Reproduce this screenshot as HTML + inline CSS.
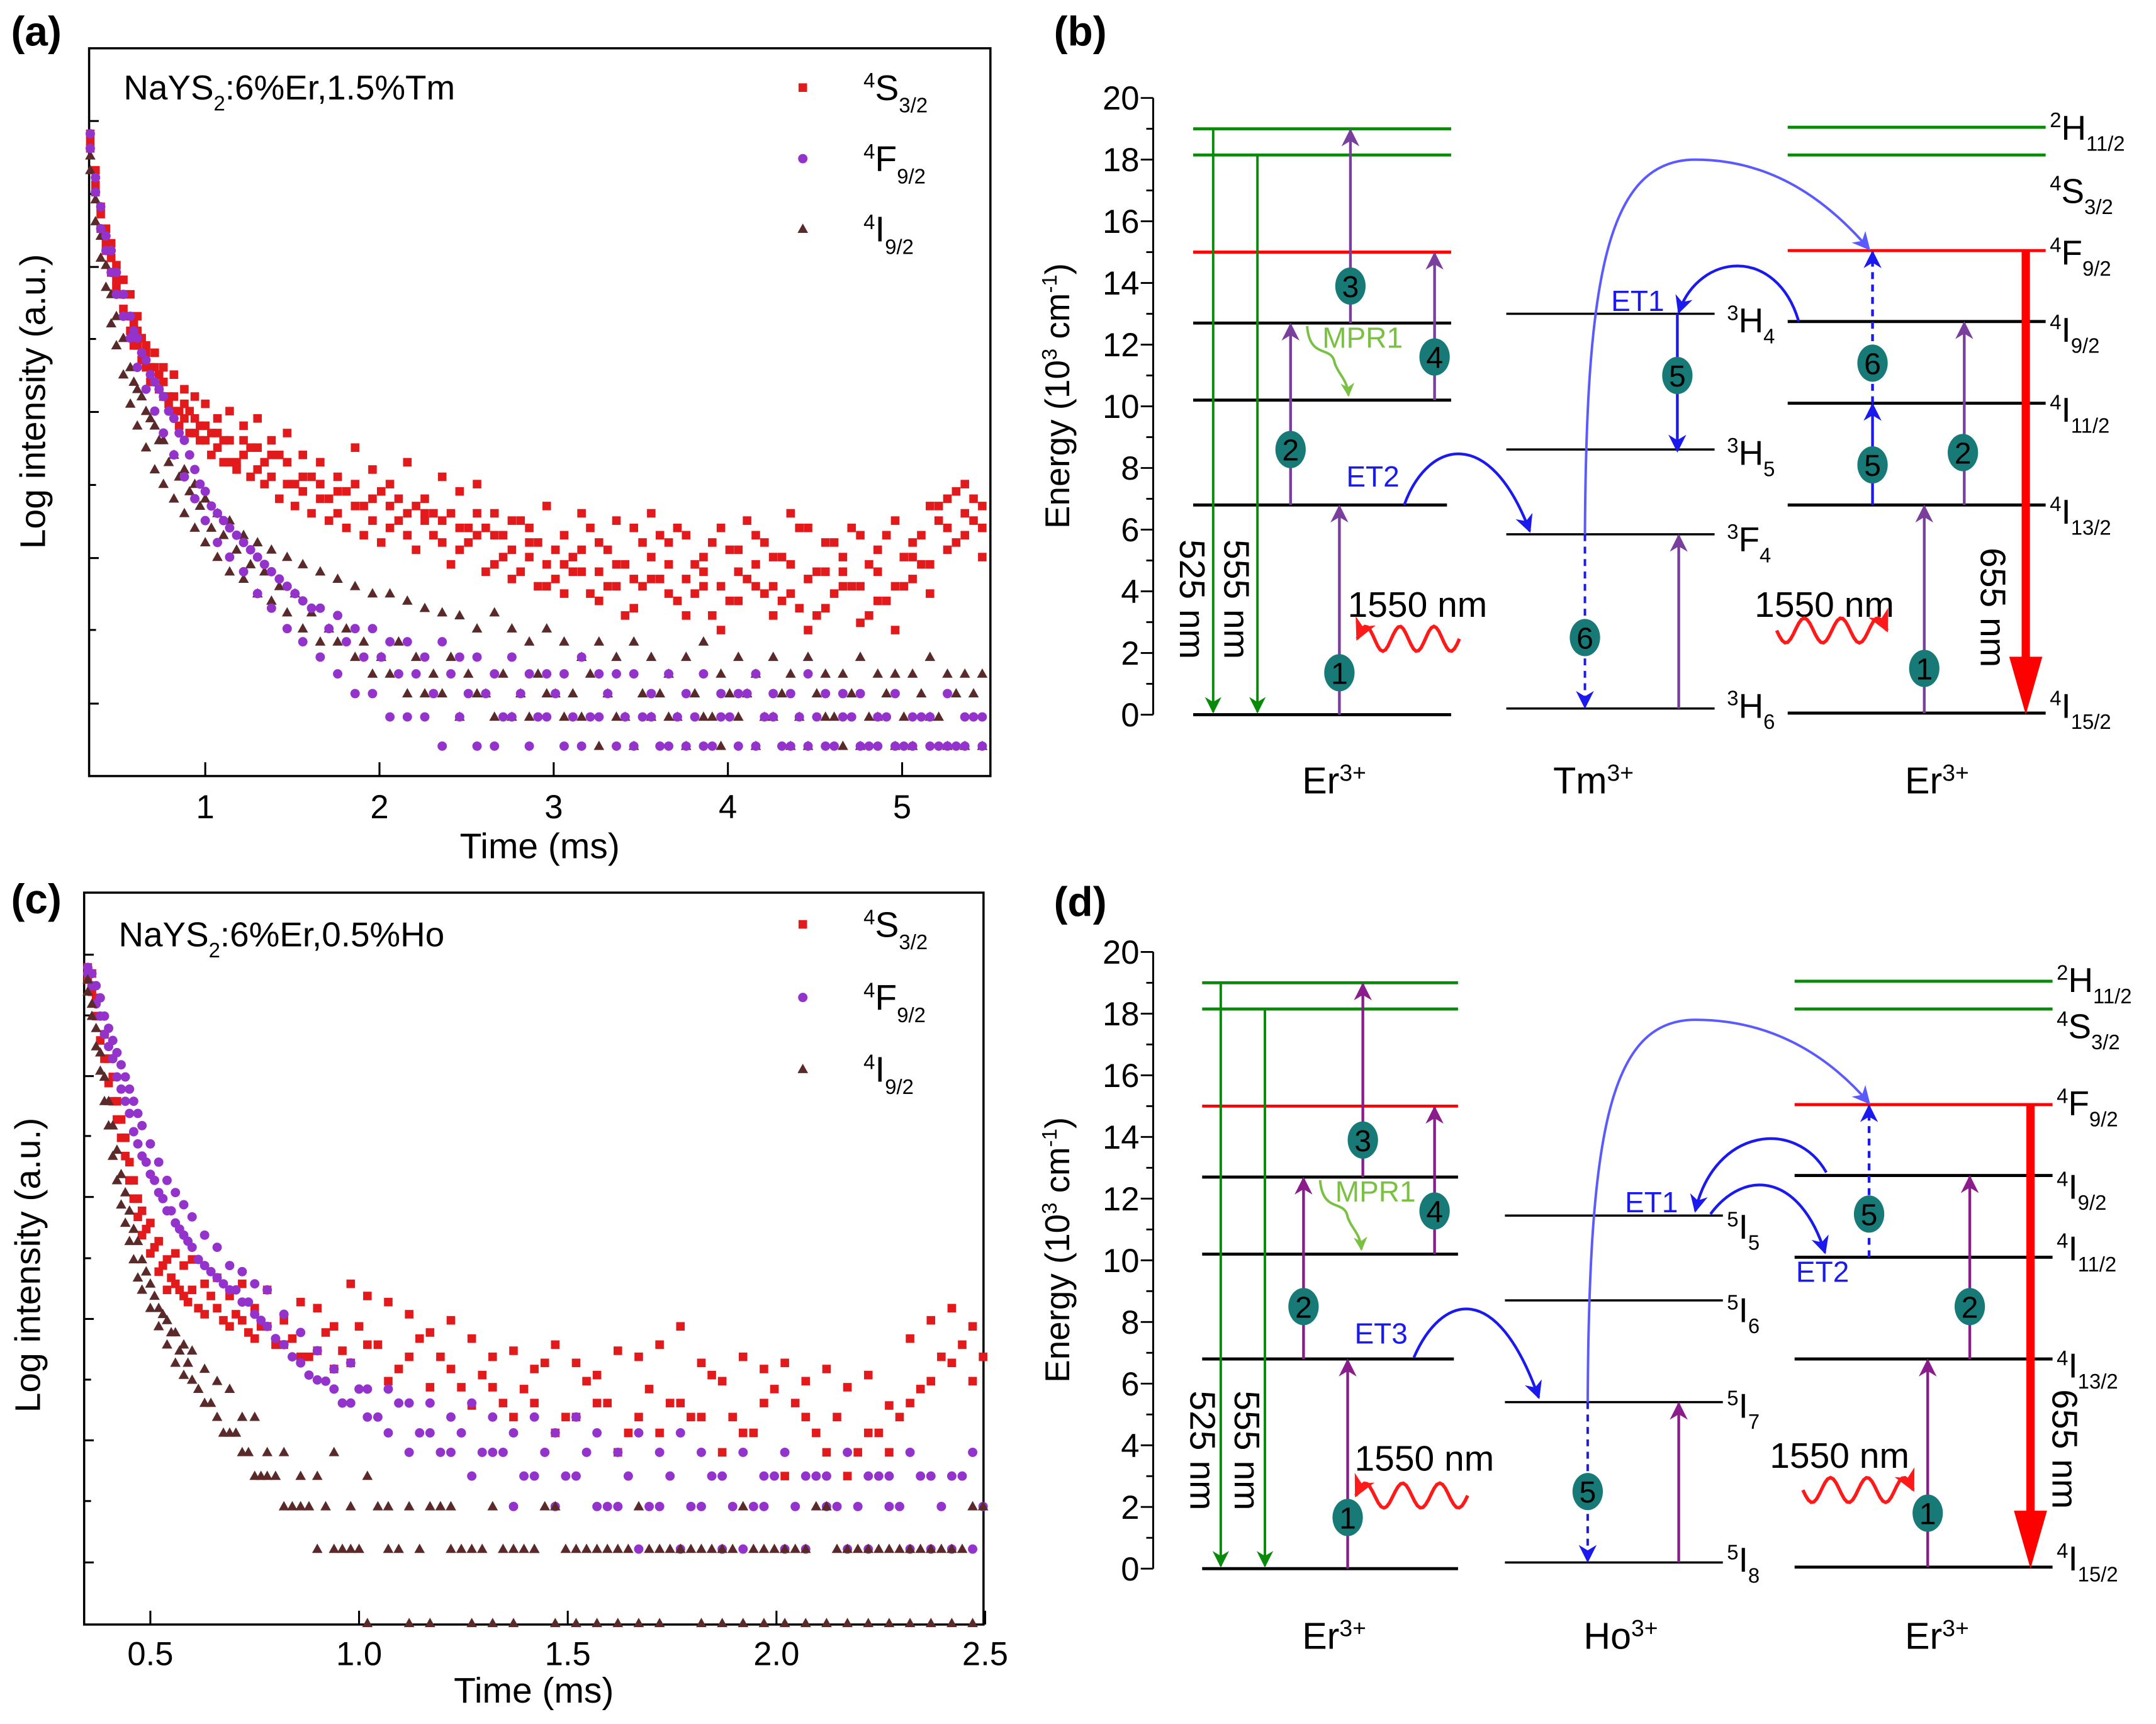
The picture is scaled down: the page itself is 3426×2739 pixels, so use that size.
<!DOCTYPE html>
<html><head><meta charset="utf-8"><style>
html,body{margin:0;padding:0;background:#fff;}
svg{display:block;}
text{font-family:"Liberation Sans",Arial,sans-serif;}
</style></head>
<body>
<svg id="fig" xmlns="http://www.w3.org/2000/svg" width="3426" height="2739" viewBox="0 0 1563 1249.6" preserveAspectRatio="none">
<defs>
<marker id="ah-green" viewBox="0 0 10 10" refX="9" refY="5" markerWidth="14" markerHeight="12" orient="auto" markerUnits="userSpaceOnUse"><path d="M0,0 L10,5 L0,10 L3,5 z" fill="#0a8a0a"/></marker>
<marker id="ah-purple" viewBox="0 0 10 10" refX="9" refY="5" markerWidth="15" markerHeight="13" orient="auto" markerUnits="userSpaceOnUse"><path d="M0,0 L10,5 L0,10 L3,5 z" fill="#7a3e9d"/></marker>
<marker id="ah-purple2" viewBox="0 0 10 10" refX="9" refY="5" markerWidth="15" markerHeight="13" orient="auto" markerUnits="userSpaceOnUse"><path d="M0,0 L10,5 L0,10 L3,5 z" fill="#8b1c8b"/></marker>
<marker id="ah-blue" viewBox="0 0 10 10" refX="9" refY="5" markerWidth="16" markerHeight="13" orient="auto" markerUnits="userSpaceOnUse"><path d="M0,0 L10,5 L0,10 L3,5 z" fill="#1a1aee"/></marker>
<marker id="ah-lblue" viewBox="0 0 10 10" refX="9" refY="5" markerWidth="16" markerHeight="13" orient="auto" markerUnits="userSpaceOnUse"><path d="M0,0 L10,5 L0,10 L3,5 z" fill="#5a5aff"/></marker>
<marker id="ah-red" viewBox="0 0 10 10" refX="9" refY="5" markerWidth="18" markerHeight="16" orient="auto" markerUnits="userSpaceOnUse"><path d="M0,0 L10,5 L0,10 L3,5 z" fill="#ff1a1a"/></marker>
<marker id="ah-mpr" viewBox="0 0 10 10" refX="9" refY="5" markerWidth="12" markerHeight="10" orient="auto" markerUnits="userSpaceOnUse"><path d="M0,0 L10,5 L0,10 L3,5 z" fill="#7ac143"/></marker>
</defs>
</svg>
<script>
// ---------- Panel (a) data ----------
const tA = [0.34,0.37,0.40,0.43,0.46,0.49,0.53,0.57,0.61,0.66,0.71,0.76,0.82,0.88,0.94,1.00,1.07,1.14,1.22,1.30,1.38,1.47,1.56,1.66,1.76,1.86,1.96,2.06,2.16,2.26,2.36,2.46,2.56,2.66,2.76,2.86,2.96,3.06,3.16,3.26,3.36,3.46,3.56,3.66,3.76,3.86,3.96,4.06,4.16,4.26,4.36,4.46,4.56,4.66,4.76,4.86,4.96,5.06,5.16,5.26,5.36,5.46];
const redA1 = [8.8,8.3,7.8,7.5,7.3,7.0,6.8,6.6,6.3,5.9,5.8,5.6,5.5,5.3,5.2,5.1,4.9,5.0,4.8,4.9,4.6,4.7,4.4,4.3,4.1,4.5,4.2,4.0,4.3,3.8,4.1,3.9,4.0,3.6,3.5,3.4,3.7,3.3,3.6,3.2,3.5,3.4,3.6,3.2,3.3,3.0,3.4,3.1,3.3,3.0,3.6,3.4,3.2,3.0,3.3,3.1,3.5,3.2,3.7,3.8,4.0,3.7];
const redA2 = [8.6,8.0,7.5,7.2,6.9,6.7,6.4,6.1,5.9,5.6,5.4,5.2,5.0,4.9,4.7,4.6,4.5,4.3,4.4,4.2,4.1,4.0,3.9,3.8,3.6,3.7,3.5,3.4,3.3,3.5,3.2,3.1,3.3,2.9,2.7,3.0,2.6,2.5,2.8,2.4,2.6,2.3,2.7,2.5,2.2,2.6,2.0,2.4,2.6,2.2,2.5,2.0,2.3,2.6,2.1,2.4,2.0,2.7,2.5,3.1,3.3,3.0];
const redA3 = [8.7,8.1,7.7,7.3,7.1,6.8,6.6,6.3,6.1,5.8,5.6,5.4,5.2,5.1,4.9,4.8,4.7,4.6,4.6,4.5,4.4,4.3,4.1,4.0,3.9,4.0,3.8,3.7,3.6,3.6,3.5,3.4,3.6,3.3,3.1,3.2,2.9,2.9,3.1,2.8,2.9,2.7,3.0,2.9,2.7,2.8,2.6,2.8,2.9,2.6,2.9,2.7,2.8,2.8,2.6,2.8,2.6,3.0,2.9,3.4,3.6,3.4];
const purA1 = [8.8,8.2,7.8,7.4,7.2,6.9,6.6,6.3,6.0,5.7,5.4,5.2,4.9,4.6,4.2,3.9,3.6,3.4,3.2,3.0,2.8,2.6,2.4,2.3,2.2,2.02,2.02,1.84,1.84,1.63,1.84,1.63,1.63,1.40,1.63,1.40,1.40,1.40,1.63,1.40,1.40,1.40,1.13,1.40,1.13,1.40,1.13,1.13,1.40,1.13,1.13,1.40,1.13,1.13,1.13,0.81,1.13,0.81,0.81,1.13,0.81,0.81];
const purA2 = [8.6,8.0,7.5,7.2,6.9,6.6,6.3,6.0,5.6,5.3,5.0,4.7,4.4,4.1,3.8,3.5,3.2,3.0,2.8,2.5,2.3,2.02,1.84,1.63,1.40,1.13,1.13,0.81,0.81,0.81,0.41,0.81,0.41,0.41,0.81,0.41,0.81,0.41,0.41,0.81,0.41,0.41,0.81,0.41,0.41,0.41,0.81,0.41,0.41,0.81,0.41,0.41,0.41,0.81,0.41,0.41,0.41,0.41,0.41,0.41,0.41,0.41];
const brnA1 = [8.5,7.9,7.4,7.0,6.6,6.3,6.0,5.6,5.3,5.0,4.8,4.6,4.4,4.2,4.0,3.8,3.6,3.5,3.3,3.2,3.1,3.0,2.9,2.8,2.7,2.6,2.5,2.5,2.4,2.3,2.24,2.2,2.02,2.24,2.02,1.84,2.02,1.84,1.63,1.84,1.63,1.84,1.63,1.40,1.63,1.84,1.40,1.63,1.40,1.63,1.40,1.63,1.40,1.40,1.63,1.40,1.40,1.40,1.63,1.40,1.40,1.40];
const brnA2 = [8.3,7.6,7.1,6.7,6.2,5.9,5.5,5.1,4.8,4.5,4.2,4.0,3.8,3.6,3.4,3.2,3.0,2.8,2.7,2.5,2.4,2.24,2.02,1.84,1.84,1.63,1.40,1.40,1.13,1.13,1.13,0.81,1.13,0.81,0.81,0.81,1.13,0.81,0.81,0.41,0.81,0.41,0.81,0.81,0.41,0.81,0.41,0.81,0.41,0.81,0.41,0.41,0.81,0.41,0.41,0.81,0.41,0.41,0.81,0.41,0.41,0.41];
const tA2 = [0.59,0.635,0.685,0.735,0.79,0.85,0.91,0.97,1.035,1.105,1.18,1.26,1.34,1.425,1.515,1.61,1.71,1.81,1.91,2.01,2.11,2.21,2.31,2.41,2.51,2.61,2.71,2.81,2.91,3.01,3.11,3.21,3.31,3.41,3.51,3.61,3.71,3.81,3.91,4.01,4.11,4.21,4.31,4.41,4.51,4.61,4.71,4.81,4.91,5.01,5.11,5.21,5.31,5.41];
const redA4 = [6.2,6.0,5.6,5.5,5.2,5.0,5.0,4.8,4.7,4.6,4.3,4.5,4.3,4.4,4.0,4.1,3.8,3.9,3.7,3.9,3.5,3.7,3.3,3.6,3.2,3.4,3.0,2.8,3.2,2.7,3.0,2.5,3.1,2.9,2.6,3.3,2.4,2.9,2.2,3.1,2.7,2.5,3.0,2.3,2.8,3.2,2.6,2.9,2.4,3.0,3.3,3.5,3.9,3.5];
const redA5 = [5.9,5.7,5.4,5.3,5.1,4.8,4.7,4.6,4.4,4.3,4.2,4.1,4.0,3.8,3.7,3.6,3.5,3.4,3.3,3.2,3.8,3.1,3.6,2.9,3.4,2.8,3.3,3.5,2.6,3.1,2.8,3.4,2.6,2.2,3.2,2.7,3.4,2.5,3.2,2.4,3.5,3.2,2.4,3.4,2.2,2.5,3.4,2.2,3.3,2.6,2.9,3.7,3.2,3.8];
const purA3 = [6.1,5.8,5.5,5.3,5.0,4.7,4.4,4.0,3.7,3.5,3.3,3.1,2.9,2.7,2.5,2.3,2.02,1.84,1.63,1.63,1.40,1.40,1.13,1.40,1.13,1.13,0.81,1.13,0.81,1.13,0.81,0.81,1.13,0.81,0.81,0.41,0.81,0.81,0.41,0.81,1.13,0.81,0.41,0.81,0.81,0.41,0.81,0.41,0.81,0.41,0.81,0.41,0.41,0.81];
const brnA3 = [5.4,5.2,4.9,4.6,4.3,4.1,3.9,3.7,3.4,3.3,3.1,2.9,2.8,2.6,2.5,2.24,2.02,2.02,1.84,1.63,1.84,1.63,1.40,1.63,1.40,1.13,1.40,1.13,1.40,1.13,1.13,1.40,1.13,0.81,1.13,1.13,0.81,1.13,0.81,1.13,1.13,0.81,1.13,0.81,1.13,0.81,1.13,0.81,1.13,0.81,1.13,0.81,1.13,1.13];
const ticksA = ["1","2","3","4","5"];
const tickValsA = [1,2,3,4,5];

// ---------- Panel (c) data ----------
const tC = [0.35,0.36,0.37,0.38,0.39,0.40,0.41,0.42,0.43,0.44,0.45,0.46,0.47,0.48,0.50,0.52,0.54,0.56,0.58,0.60,0.63,0.66,0.69,0.72,0.75,0.78,0.82,0.86,0.90,0.94,0.98,1.02,1.07,1.12,1.17,1.22,1.27,1.32,1.37,1.42,1.47,1.52,1.57,1.62,1.67,1.72,1.77,1.82,1.87,1.92,1.97,2.02,2.07,2.12,2.17,2.22,2.27,2.32,2.37,2.42,2.47];
const redC1 = [10.8,10.7,10.3,10.0,9.7,9.3,9.0,8.6,8.3,8.0,7.6,7.3,7.0,6.8,6.6,6.3,6.0,6.1,5.9,6.0,5.6,5.7,5.4,5.6,5.2,5.5,5.0,5.3,5.2,4.9,5.6,5.4,5.3,5.1,4.8,5.0,4.7,4.4,4.5,4.2,4.6,4.3,4.1,4.5,4.4,4.6,4.9,4.3,4.0,4.4,4.2,4.3,4.0,4.2,3.9,4.1,3.6,4.7,5.0,5.2,4.9];
const redC2 = [10.6,10.4,10.0,9.6,9.3,8.9,8.6,8.3,8.0,7.7,7.3,7.0,6.7,6.4,6.1,5.8,5.5,5.6,5.4,5.5,5.1,5.2,4.9,5.0,4.7,4.9,4.6,4.4,4.5,4.2,4.3,4.6,4.0,4.4,3.9,4.2,3.6,3.9,3.41,3.64,3.15,3.41,3.64,2.83,3.41,3.15,3.64,3.41,2.83,3.15,3.64,2.44,3.41,2.83,2.44,3.15,2.83,3.64,4.0,4.3,4.0];
const purC1 = [10.8,10.7,10.5,10.3,10.0,9.8,9.6,9.4,9.2,9.0,8.8,8.6,8.4,8.2,7.9,7.6,7.3,7.1,6.9,6.7,6.4,6.2,5.9,5.8,5.6,5.5,5.1,4.8,4.5,4.2,4.3,3.87,3.87,3.64,3.64,3.41,3.64,3.41,3.15,3.41,3.15,3.41,3.15,2.83,3.15,2.83,3.15,2.83,2.44,2.83,2.44,2.83,2.44,2.44,2.83,2.44,2.44,2.83,2.44,2.44,2.83];
const purC2 = [10.7,10.5,10.2,10.0,9.7,9.5,9.3,9.0,8.8,8.6,8.4,8.1,7.9,7.7,7.4,7.1,6.8,6.6,6.4,6.2,5.9,5.7,5.5,5.3,5.1,4.9,4.6,4.3,4.02,3.87,3.64,3.41,3.15,2.83,3.15,2.83,2.44,2.83,1.94,2.44,1.94,2.44,1.94,1.94,1.24,1.94,1.24,1.94,1.24,1.24,1.94,1.24,1.24,1.94,1.24,1.24,1.94,1.24,1.24,1.24,1.24];
const brnC1 = [10.6,10.2,9.8,9.4,9.0,8.6,8.2,7.8,7.4,7.1,6.8,6.5,6.3,6.0,5.6,5.2,5.0,4.8,4.6,4.5,4.2,4.0,3.87,3.41,3.41,2.83,2.83,2.44,2.44,2.83,1.94,2.44,1.94,1.94,1.94,1.94,1.24,1.94,1.24,1.24,1.94,1.24,1.24,1.24,1.94,1.24,1.24,1.24,1.24,1.94,1.24,1.24,1.24,1.94,1.24,1.24,1.24,1.24,1.24,1.24,1.94];
const brnC2 = [10.4,10.0,9.5,9.1,8.6,8.2,7.7,7.3,6.9,6.6,6.3,6.0,5.7,5.5,5.2,4.9,4.6,4.3,4.1,4.02,3.64,3.41,3.15,2.83,2.44,2.44,1.94,1.94,1.24,1.24,1.24,0.02,1.24,0.02,0.02,1.24,0.02,0.02,0.02,1.24,0.02,0.02,0.02,0.02,0.02,0.02,1.24,0.02,0.02,0.02,0.02,0.02,0.02,0.02,0.02,0.02,0.02,0.02,0.02,0.02,0.02];
const tC2 = [0.49,0.51,0.53,0.55,0.57,0.59,0.615,0.645,0.675,0.705,0.735,0.765,0.80,0.84,0.88,0.92,0.96,1.00,1.045,1.095,1.145,1.195,1.245,1.295,1.345,1.395,1.445,1.495,1.545,1.595,1.645,1.695,1.745,1.795,1.845,1.895,1.945,1.995,2.045,2.095,2.145,2.195,2.245,2.295,2.345,2.395,2.445,2.495];
const redC3 = [6.5,6.2,5.9,5.7,5.5,5.3,5.2,5.4,5.0,5.1,4.8,4.9,4.6,4.7,4.4,4.8,4.5,4.9,4.6,4.2,4.7,4.4,3.9,4.1,3.64,3.87,4.3,3.41,4.0,3.64,3.15,3.87,3.64,3.41,4.1,3.41,3.15,3.87,3.64,3.15,3.41,2.83,3.15,3.41,3.87,4.4,4.6,4.4];
const purC3 = [7.6,7.3,7.0,6.8,6.5,6.3,6.0,5.8,5.6,5.5,5.3,5.0,4.7,4.4,4.1,4.0,3.64,3.87,3.41,3.64,3.15,2.83,3.15,2.83,2.83,2.44,2.83,2.44,2.83,1.94,2.44,1.94,2.44,1.94,2.44,1.94,1.94,2.44,1.94,2.44,1.94,1.94,2.44,1.94,2.44,1.94,2.44,1.94];
const brnC3 = [5.8,5.4,5.1,4.8,4.5,4.3,3.87,3.64,3.15,3.15,2.83,2.44,2.44,1.94,1.94,1.94,1.24,1.24,1.94,1.24,1.24,1.94,1.24,1.24,1.24,1.24,1.94,1.24,1.24,1.24,1.24,1.24,1.24,1.24,1.24,1.24,1.24,1.24,1.24,1.94,1.24,1.24,1.24,1.24,1.24,1.24,1.24,1.94];
const ticksC = ["0.5","1.0","1.5","2.0","2.5"];
const tickValsC = [0.5,1.0,1.5,2.0,2.5];

// ---------- Energy levels (10^3 cm^-1) ----------
const erLevels = [19.0,18.15,15.0,12.7,10.2,6.8,0];
const erLevelColors = ["#0a8a0a","#0a8a0a","#ff0000","#000","#000","#000","#000"];
const tmLevels = [13.0,8.6,5.85,0.2];
const hoLevels = [11.45,8.7,5.4,0.2];
const energyTicks = [0,2,4,6,8,10,12,14,16,18,20];

const NS = "http://www.w3.org/2000/svg";
const svg = document.getElementById("fig");
function add(tag, attrs, name, parent) {
  const el = document.createElementNS(NS, tag);
  for (const k in attrs) el.setAttribute(k, attrs[k]);
  
  
  (parent || svg).appendChild(el);
  return el;
}
function txt(x, y, s, size, name, extra) {
  const a = Object.assign({x:x, y:y, "font-size":size, fill:"#000"}, extra || {});
  const t = add("text", a, name);
  t.textContent = s;
  return t;
}
function richText(x, y, parts, name, extra) {
  const t = add("text", Object.assign({x:x, y:y, fill:"#000"}, extra || {}), name);
  parts.forEach(p => {
    const ts = document.createElementNS(NS, "tspan");
    ts.setAttribute("font-size", p[1]);
    if (p[2]) ts.setAttribute("dy", p[2]);
    ts.textContent = p[0];
    t.appendChild(ts);
  });
  return t;
}
function levelLabel(x, y, sup, main, sub, name) {
  return richText(x, y, [[sup,15,-9],[main,25,9],[sub,15,8]], name);
}

// ---------- scatter panels ----------
function marker(shape, x, y, color, g, name) {
  let el;
  if (shape === "sq") el = add("rect", {x:x-3.1, y:y-3.1, width:6.2, height:6.2, fill:color}, name, g);
  else if (shape === "ci") el = add("circle", {cx:x, cy:y, r:3.4, fill:color}, name, g);
  else el = add("path", {d:`M${x},${y-4} L${x+3.8},${y+2.8} L${x-3.8},${y+2.8} Z`, fill:color}, name, g);
  return el;
}
function scatterPanel(cfg) {
  const {x0,x1,y0,y1,xf,yf,series,xt,xtv,yticks,label,legendY,title,titleY,tickBase,xTitleY,yTitleY} = cfg;
  add("rect", {x:x0, y:y0, width:x1-x0, height:y1-y0, fill:"none", stroke:"#000", "stroke-width":1.6}, "plot-frame");
  xtv.forEach((v,i) => {
    add("line", {x1:xf(v), x2:xf(v), y1:y1, y2:y1-10, stroke:"#000", "stroke-width":1.4}, "x-tick");
    txt(xf(v), tickBase, xt[i], 24, "x-tick-label", {"text-anchor":"middle"});
  });
  yticks.forEach((yy,i) => {
    add("line", {x1:x0, x2:x0+(i%2===0?7:5), y1:yy, y2:yy, stroke:"#000", "stroke-width":1.4}, "y-tick");
  });
  txt((x0+x1)/2, xTitleY, "Time (ms)", 26, "x-axis-title", {"text-anchor":"middle"});
  txt(0, 0, "Log intensity (a.u.)", 26, "y-axis-title", {"text-anchor":"middle", transform:`translate(${x0-32},${yTitleY}) rotate(-90)`});
  txt(8, label[1], label[0], 30, "panel-label", {"font-weight":"bold"});
  richText(x0+25, titleY, [[title[0],25],["2",15,8],[title[1],25,-8]], "sample-annotation");
  series.forEach(s => {
    const g = add("g", {}, "series-" + s.name);
    s.vals.forEach(pair => {
      const times = pair[0], arr = pair[1];
      for (let i = 0; i < times.length; i++) {
        if (arr[i] === undefined) continue;
        marker(s.shape, xf(times[i]), yf(arr[i]), s.color, g, "point-" + s.name);
      }
    });
  });
  const leg = [["sq","#e31a1c","4","S","3/2"],["ci","#9333cc","4","F","9/2"],["tr","#5a2a2a","4","I","9/2"]];
  leg.forEach((l,i) => {
    const g = add("g", {}, "legend-entry");
    marker(l[0], 582, legendY[i], l[1], g, "legend-marker");
    richText(626, legendY[i]+9, [[l[2],15,-9],[l[3],26,9],[l[4],15,9]], "legend-label");
  });
}

scatterPanel({
  x0:64.6, x1:718, y0:35, y1:562.5,
  xf: t => 148.8 + 126.3*(t-1), yf: v => 562.5 - 52.9*v,
  series: [
    {name:"4S3/2", shape:"sq", color:"#e31a1c", vals:[[tA,redA1],[tA,redA2],[tA,redA3],[tA2,redA4],[tA2,redA5]]},
    {name:"4I9/2", shape:"tr", color:"#5a2a2a", vals:[[tA,brnA1],[tA,brnA2],[tA2,brnA3]]},
    {name:"4F9/2", shape:"ci", color:"#9333cc", vals:[[tA,purA1],[tA,purA2],[tA2,purA3]]}
  ],
  xt: ticksA, xtv: tickValsA,
  yticks: [510,456.6,404.5,351.5,298.6,245.7,193.5,140.6,87.7],
  label: ["(a)",33], legendY:[63.5,115,166],
  title:["NaYS",":6%Er,1.5%Tm"], titleY:72, tickBase:593, xTitleY:622, yTitleY:291
});
scatterPanel({
  x0:61, x1:713, y0:647, y1:1177.5,
  xf: t => 109 + 302.6*(t-0.5), yf: v => 1177.5 - 44.1*v,
  series: [
    {name:"4S3/2", shape:"sq", color:"#e31a1c", vals:[[tC,redC1],[tC,redC2],[tC2,redC3]]},
    {name:"4F9/2", shape:"ci", color:"#9333cc", vals:[[tC,purC1],[tC,purC2],[tC2,purC3]]},
    {name:"4I9/2", shape:"tr", color:"#5a2a2a", vals:[[tC,brnC1],[tC,brnC2],[tC2,brnC3]]}
  ],
  xt: ticksC, xtv: tickValsC,
  yticks: [1132.5,1088,1044,1000,956,912,867.6,823.4,780,736,692],
  label: ["(c)",662], legendY:[670,723,775],
  title:["NaYS",":6%Er,0.5%Ho"], titleY:686, tickBase:1207, xTitleY:1234, yTitleY:917
});

// ---------- energy diagrams ----------
function circ(x, y, n) {
  const g = add("g", {}, "step-" + n + "-badge");
  add("ellipse", {cx:x, cy:y, rx:11, ry:13.5, fill:"#177a77"}, "step-badge-circle", g);
  const t = add("text", {x:x, y:y+8, "font-size":22, "text-anchor":"middle", fill:"#000"}, "step-badge-number", g);
  t.textContent = n;
}
function arrow(x, ya, yb, color, mk, name, w, dash) {
  const a = {x1:x, x2:x, y1:ya, y2:yb, stroke:color, "stroke-width":w||2, "marker-end":`url(#${mk})`};
  if (dash) a["stroke-dasharray"] = dash;
  add("line", a, name);
}
function wave(xs, xe, y, mk, name) {
  let d = `M${xs},${y}`;
  const n = 40;
  for (let i = 1; i <= n; i++) {
    const x = xs + (xe-xs)*i/n;
    const yy = y + 9*Math.sin(i/n*Math.PI*2*3.0);
    d += ` L${x.toFixed(1)},${yy.toFixed(1)}`;
  }
  add("path", {d:d, fill:"none", stroke:"#ff1a1a", "stroke-width":2.5, "marker-end":`url(#${mk})`}, name);
}
function rotText(x, y, s, name) {
  txt(0, 0, s, 26, name, {transform:`translate(${x},${y}) rotate(90)`});
}

function diagram(c) {
  const y = E => c.base - 22.35*E;
  add("line", {x1:836, x2:836, y1:y(20), y2:y(0), stroke:"#000", "stroke-width":1.4}, "energy-axis-line");
  for (let e = 0; e <= 20; e++) {
    add("line", {x1:836, x2:836-(e%2===0?9:5), y1:y(e), y2:y(e), stroke:"#000", "stroke-width":1.3}, "energy-tick");
  }
  energyTicks.forEach(e => txt(826, y(e)+8.5, String(e), 24, "energy-tick-label", {"text-anchor":"end"}));
  richText(0, 0, [["Energy (10",25],["3",15,-9],[" cm",25,9],["-1",15,-9],[")",25,9]], "energy-axis-title", {"text-anchor":"middle", transform:`translate(${775},${c.titleY}) rotate(-90)`});
  txt(764, c.labelY, c.label, 30, "panel-label", {"font-weight":"bold"});

  erLevels.forEach((e,i) => {
    add("line", {x1:c.L[0], x2:(e===6.8?c.L[1]-3:c.L[1]), y1:y(e), y2:y(e), stroke:erLevelColors[i], "stroke-width":2.2}, "er-level-left");
  });
  const rE = [19.05,18.15,15.05,12.75,10.1,6.8,0.05];
  rE.forEach((e,i) => {
    add("line", {x1:c.R[0], x2:c.R[1], y1:y(e), y2:y(e), stroke:erLevelColors[i], "stroke-width":2.2}, "er-level-right");
  });
  c.mid.forEach(e => add("line", {x1:c.M[0], x2:c.M[1], y1:y(e), y2:y(e), stroke:"#000", "stroke-width":1.6}, "dopant-level"));

  arrow(c.g1, y(19.0), y(0)-2, "#0a8a0a", "ah-green", "emission-525-arrow", 1.8);
  arrow(c.g2, y(18.15), y(0)-2, "#0a8a0a", "ah-green", "emission-555-arrow", 1.8);
  rotText(c.g1-24+c.rt, c.rtY, "525 nm", "label-525nm");
  rotText(c.g1+8+c.rt, c.rtY, "555 nm", "label-555nm");

  const P = c.pc, PM = c.pm;
  arrow(c.p1, y(0), y(6.8)+1, P, PM, "excitation-arrow-1");
  arrow(c.p2, y(6.8), y(12.7)+1, P, PM, "excitation-arrow-2");
  arrow(c.p3, y(12.7), y(19.0)+1, P, PM, "excitation-arrow-3");
  arrow(1040, y(10.2), y(15.0)+1, P, PM, "excitation-arrow-4");
  circ(c.p1, y(c.c1), "1"); circ(c.p2, y(c.c2), "2"); circ(c.p3, y(13.9), "3"); circ(1040, y(11.6), "4");

  add("path", {d:`M${c.p2+12},${y(12.6)} C${c.p2+14},${y(11.5)} ${c.p2+30},${y(12.0)} ${c.p2+32},${y(11.4)} C${c.p2+35},${y(11.0)} ${c.p2+41},${y(10.9)} ${c.p2+42},${y(10.35)}`, fill:"none", stroke:"#7ac143", "stroke-width":1.8, "marker-end":"url(#ah-mpr)"}, "mpr1-arrow");
  txt(c.p2+23, y(11.9), "MPR1", 21, "mpr1-label", {fill:"#7ac143"});

  txt(c.t1[0], c.t1[1], "1550 nm", 26, "pump-label-left");
  wave(c.w1[0], c.w1[1], y(c.w1[2]), "ah-red", "pump-wave-left");
  txt(c.t2[0], c.t2[1], "1550 nm", 26, "pump-label-right");
  wave(c.w2[0], c.w2[1], y(c.w2[2]), "ah-red", "pump-wave-right");

  add("line", {x1:c.rx, x2:c.rx, y1:y(15.05), y2:y(0)-38, stroke:"#ff0000", "stroke-width":6}, "emission-655-arrow");
  add("path", {d:`M${c.rx-12},${y(0)-42} L${c.rx+12},${y(0)-42} L${c.rx},${y(0)} Z`, fill:"#ff0000"}, "emission-655-arrowhead");
  rotText(c.r655[0], c.r655[1], "655 nm", "label-655nm");

  add("path", {d:`M${c.bx},${y(c.bE)} C${c.bx+1},${y(14.2)} ${c.bx+16},${y(c.peak)} 1229,${y(c.peak)} C1290,${y(c.peak)} 1330,${y(16.4)} 1355,${y(15.1)}`, fill:"none", stroke:"#5a5aff", "stroke-width":1.8, "marker-end":"url(#ah-lblue)"}, "energy-transfer-curve");
  arrow(c.bx, y(c.bE), y(0.2)-1, "#1a1aee", "ah-blue", "nonradiative-dashed-arrow", 1.8, "5,4");
  circ(c.bx, y(2.5), c.dashN);
  arrow(1217, y(0.2), y(c.bE)+1, P, PM, "dopant-excitation-arrow");

  const ions = [[968,"Er"],[c.midX,c.midIon],[1405,"Er"]];
  ions.forEach(io => richText(io[0]-24, c.ionY, [[io[1],27],["3+",17,-9]], "ion-label"));

  c.rLabels.forEach(l => levelLabel(c.rlx, y(l[3])+9, l[0], l[1], l[2], "level-label"));
  c.mLabels.forEach(l => levelLabel(1252, y(l[3])+9, l[0], l[1], l[2], "level-label"));
  c.extra(y);
}

diagram({
  base:518, titleY:287, label:"(b)", labelY:33,
  L:[865,1052], R:[1296,1483], M:[1092,1243], mid:tmLevels,
  g1:879.5, g2:911.6, rt:0, rtY:391,
  pc:"#7a3e9d", pm:"ah-purple",
  p1:971, p2:935.6, p3:979, c1:1.36, c2:8.6,
  t1:[977,447], w1:[1058,984,2.46], t2:[1272,447], w2:[1288,1368,2.73],
  rx:1468.6, r655:[1436,397],
  bx:1149, bE:5.85, peak:18.0, dashN:"6",
  midX:1150, midIon:"Tm", ionY:575, rlx:1486,
  rLabels:[["2","H","11/2",19.05],["4","S","3/2",17.0],["4","F","9/2",15.0],["4","I","9/2",12.5],["4","I","11/2",9.9],["4","I","13/2",6.6],["4","I","15/2",0.3]],
  mLabels:[["3","H","4",12.8],["3","H","5",8.5],["3","F","4",5.7],["3","H","6",0.3]],
  extra: y => {
    add("path", {d:`M1018,${y(6.8)} C1035,${y(8.9)} 1080,${y(9.4)} 1109,${y(5.95)}`, fill:"none", stroke:"#1a1aee", "stroke-width":2, "marker-end":"url(#ah-blue)"}, "et2-curve");
    txt(976, y(7.4), "ET2", 21, "et2-label", {fill:"#1a1aee"});
    add("path", {d:`M1304,${y(12.75)} C1288,${y(15.2)} 1232,${y(15.0)} 1217,${y(13.05)}`, fill:"none", stroke:"#1a1aee", "stroke-width":2, "marker-end":"url(#ah-blue)"}, "et1-curve");
    txt(1168, y(13.0)-2, "ET1", 21, "et1-label", {fill:"#1a1aee"});
    arrow(1216, y(13.0), y(8.6)+1, "#1a1aee", "ah-blue", "tm-relaxation-arrow", 2);
    circ(1216, y(11.0), "5");
    arrow(1357.5, y(6.8), y(10.1)+1, "#1a1aee", "ah-blue", "er-et-arrow-5", 2);
    arrow(1357.5, y(10.1), y(15.05)+1, "#1a1aee", "ah-blue", "er-et-arrow-6", 2, "5,4");
    circ(1357.5, y(8.1), "5"); circ(1357.5, y(11.4), "6");
    arrow(1395, y(0.05), y(6.8)+1, "#7a3e9d", "ah-purple", "er-right-excitation-1");
    arrow(1424, y(6.8), y(12.75)+1, "#7a3e9d", "ah-purple", "er-right-excitation-2");
    circ(1395, y(1.5), "1"); circ(1423, y(8.5), "2");
  }
});

diagram({
  base:1137, titleY:906, label:"(d)", labelY:664,
  L:[871.5,1057], R:[1301,1488], M:[1091,1249], mid:hoLevels,
  g1:885, g2:917, rt:2, rtY:1008,
  pc:"#8b1c8b", pm:"ah-purple2",
  p1:977, p2:945, p3:988, c1:1.66, c2:8.5,
  t1:[982,1066], w1:[1064,983,2.37], t2:[1283,1064], w2:[1307,1387,2.55],
  rx:1472, r655:[1488,1007],
  bx:1151, bE:5.4, peak:17.8, dashN:"5",
  midX:1172, midIon:"Ho", ionY:1195, rlx:1491,
  rLabels:[["2","H","11/2",19.1],["4","S","3/2",17.6],["4","F","9/2",15.1],["4","I","9/2",12.4],["4","I","11/2",10.4],["4","I","13/2",6.6],["4","I","15/2",0.35]],
  mLabels:[["5","I","5",11.1],["5","I","6",8.4],["5","I","7",5.3],["5","I","8",0.3]],
  extra: y => {
    add("path", {d:`M1025,${y(6.85)} C1045,${y(8.9)} 1085,${y(9.4)} 1115.5,${y(5.55)}`, fill:"none", stroke:"#1a1aee", "stroke-width":2, "marker-end":"url(#ah-blue)"}, "et3-curve");
    txt(982, y(7.3), "ET3", 21, "et3-label", {fill:"#1a1aee"});
    add("path", {d:`M1324,${y(12.85)} C1302,${y(14.6)} 1243,${y(14.3)} 1229,${y(11.6)}`, fill:"none", stroke:"#1a1aee", "stroke-width":2, "marker-end":"url(#ah-blue)"}, "et1-curve");
    txt(1178, y(11.6)+1, "ET1", 21, "et1-label", {fill:"#1a1aee"});
    add("path", {d:`M1240,${y(11.5)} C1265,${y(13.0)} 1305,${y(12.8)} 1323,${y(10.25)}`, fill:"none", stroke:"#1a1aee", "stroke-width":2, "marker-end":"url(#ah-blue)"}, "et2-curve");
    txt(1302, y(9.3), "ET2", 21, "et2-label", {fill:"#1a1aee"});
    arrow(1355, y(10.1), y(15.05)+1, "#1a1aee", "ah-blue", "er-et-arrow-5", 2, "5,4");
    circ(1355, y(11.5), "5");
    arrow(1397.5, y(0.05), y(6.8)+1, "#8b1c8b", "ah-purple2", "er-right-excitation-1");
    arrow(1428, y(6.8), y(12.75)+1, "#8b1c8b", "ah-purple2", "er-right-excitation-2");
    circ(1397.5, y(1.8), "1"); circ(1428, y(8.5), "2");
  }
});
</script>
</body></html>
